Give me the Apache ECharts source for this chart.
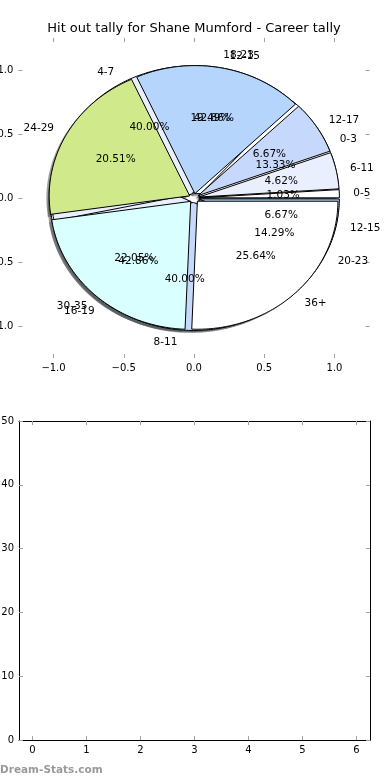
<!DOCTYPE html>
<html><head><meta charset="utf-8">
<script src="https://cdn.jsdelivr.net/npm/echarts@6/dist/echarts.min.js"></script>
<style>html,body{margin:0;padding:0;background:#fff}#c{width:390px;height:780px}</style>
</head><body><div id="c"></div>
<script>
// ---- data ----
const titleText = 'Hit out tally for Shane Mumford - Career tally';
const pieALabels = ['0-5','6-11','12-17','18-23','24-29','30-35','36+'];
const pieAValues = [2, 9, 13, 38, 40, 43, 50];
const pieBLabels = ['0-3','4-7','8-11','12-15'];
const pieBValues = [2, 6, 6, 1];
const pieCLabels = ['12-15','16-19','20-23'];
const pieCValues = [3, 3, 1];
const pieTicks = [-1, -0.5, 0, 0.5, 1];
const lowerXTicks = [0, 1, 2, 3, 4, 5, 6];
const lowerYTicks = [0, 10, 20, 30, 40, 50];
const sliceColors = ['#ffffff','#e9effd','#c6d8fb','#b5d5fd','#cfe98b','#d9ffff'];

const EXPLODE = 0.035;
const FONT = 'DejaVu Sans';
const pies = [
  {labels: pieCLabels, values: pieCValues},
  {labels: pieBLabels, values: pieBValues},
  {labels: pieALabels, values: pieAValues}
];

function sliceAngles(values, i) {
  const total = values.reduce((a, b) => a + b, 0);
  let before = 0;
  for (let k = 0; k < i; k++) before += values[k];
  return [before / total * 360, (before + values[i]) / total * 360, values[i] / total * 100];
}
function hexRgb(h) {
  return [parseInt(h.slice(1,3),16), parseInt(h.slice(3,5),16), parseInt(h.slice(5,7),16)];
}

function wedgeSeries(pie, z, shadow) {
  return {
    type: 'custom', coordinateSystem: 'cartesian2d', xAxisIndex: 0, yAxisIndex: 0,
    z: z, silent: true, animation: false,
    data: pie.values.map((v, i) => [i, v]),
    renderItem: function (params, api) {
      const i = api.value(0);
      const [a0, a1] = sliceAngles(pie.values, i);
      const mid = (a0 + a1) / 2 * Math.PI / 180;
      const ox = EXPLODE * Math.cos(mid) + (shadow ? -0.02 : 0);
      const oy = EXPLODE * Math.sin(mid) + (shadow ? -0.02 : 0);
      const pts = [api.coord([ox, oy])];
      const n = Math.max(2, Math.ceil(a1 - a0));
      for (let k = 0; k <= n; k++) {
        const t = (a0 + (a1 - a0) * k / n) * Math.PI / 180;
        pts.push(api.coord([ox + Math.cos(t), oy + Math.sin(t)]));
      }
      const col = sliceColors[i % sliceColors.length];
      let style;
      if (shadow) {
        const c = hexRgb(col).map(x => Math.round(x * 0.3));
        style = {fill: 'rgba(' + c.join(',') + ',0.5)', stroke: null};
      } else {
        style = {fill: col, stroke: '#000', lineWidth: 1, lineJoin: 'miter'};
      }
      return {type: 'polygon', shape: {points: pts}, style: style};
    }
  };
}

function textSeries(pie, z) {
  return {
    type: 'custom', coordinateSystem: 'cartesian2d', xAxisIndex: 0, yAxisIndex: 0,
    z: z, silent: true, animation: false,
    data: pie.values.map((v, i) => [i, v]),
    renderItem: function (params, api) {
      const i = api.value(0);
      const [a0, a1, pct] = sliceAngles(pie.values, i);
      const mid = (a0 + a1) / 2 * Math.PI / 180;
      const c = Math.cos(mid), s = Math.sin(mid);
      const lp = api.coord([(EXPLODE + 1.1) * c, (EXPLODE + 1.1) * s]);
      const pp = api.coord([(EXPLODE + 0.6) * c, (EXPLODE + 0.6) * s]);
      return {type: 'group', children: [
        {type: 'text', x: lp[0], y: lp[1], style: {text: pie.labels[i], fill: '#000',
          font: '10.5px ' + FONT, align: c > 0 ? 'left' : 'right', verticalAlign: 'middle'}},
        {type: 'text', x: pp[0], y: pp[1], style: {text: pct.toFixed(2) + '%', fill: '#000',
          font: '10.5px ' + FONT, align: 'center', verticalAlign: 'middle'}}
      ]};
    }
  };
}

const labelStyle = {color: '#000', fontSize: 10, fontFamily: FONT};
const fmt1 = v => (v < 0 ? '\u2212' : '') + Math.abs(v).toFixed(1);

function valAxis(grid, pos, min, max, ticks, showLabel, formatter, lineColor) {
  return {
    type: 'value', gridIndex: grid, position: pos, min: min, max: max,
    axisLine: {show: true, onZero: false, lineStyle: {color: lineColor, width: 1}},
    splitLine: {show: false},
    axisTick: {show: true, inside: true, length: 4, customValues: ticks,
      lineStyle: {color: '#a0a0a0', width: 1}},
    axisLabel: Object.assign({show: showLabel, customValues: ticks, margin: 5,
      hideOverlap: false, formatter: formatter || (v => String(v))}, labelStyle)
  };
}
const NONE = 'rgba(0,0,0,0)';

const series = [];
pies.forEach(p => series.push(wedgeSeries(p, 1, true)));
pies.forEach((p, k) => series.push(wedgeSeries(p, 2 + k, false)));
pies.forEach(p => series.push(textSeries(p, 10)));

const option = {
  animation: false,
  backgroundColor: '#fff',
  grid: [
    {left: 18.4, right: 20.4, top: 38, bottom: 422, show: false,
      containLabel: false, outerBoundsMode: 'none'},
    {left: 19, right: 20, top: 421, bottom: 40, show: false,
      containLabel: false, outerBoundsMode: 'none'}
  ],
  xAxis: [
    valAxis(0, 'bottom', -1.25, 1.25, pieTicks, true, fmt1, NONE),
    valAxis(0, 'top', -1.25, 1.25, pieTicks, false, null, NONE),
    valAxis(1, 'bottom', -0.25, 6.25, lowerXTicks, true, null, '#000'),
    valAxis(1, 'top', -0.25, 6.25, lowerXTicks, false, null, '#000')
  ],
  yAxis: [
    valAxis(0, 'left', -1.25, 1.25, pieTicks, true, fmt1, NONE),
    valAxis(0, 'right', -1.25, 1.25, pieTicks, false, null, NONE),
    valAxis(1, 'left', 0, 50, lowerYTicks, true, null, '#000'),
    valAxis(1, 'right', 0, 50, lowerYTicks, false, null, '#000')
  ],
  graphic: [
    {type: 'text', x: 194, y: 29, z: 100, style: {text: titleText, fill: '#000',
      font: '13px ' + FONT, align: 'center', verticalAlign: 'middle'}},
    {type: 'text', x: 0, y: 770, z: 100, style: {text: 'Dream-Stats.com', fill: '#9a9a9a',
      font: 'bold 10.5px ' + FONT, align: 'left', verticalAlign: 'middle'}}
  ],
  series: series
};
const chart = echarts.init(document.getElementById('c'));
chart.setOption(option);
</script>
</body></html>
